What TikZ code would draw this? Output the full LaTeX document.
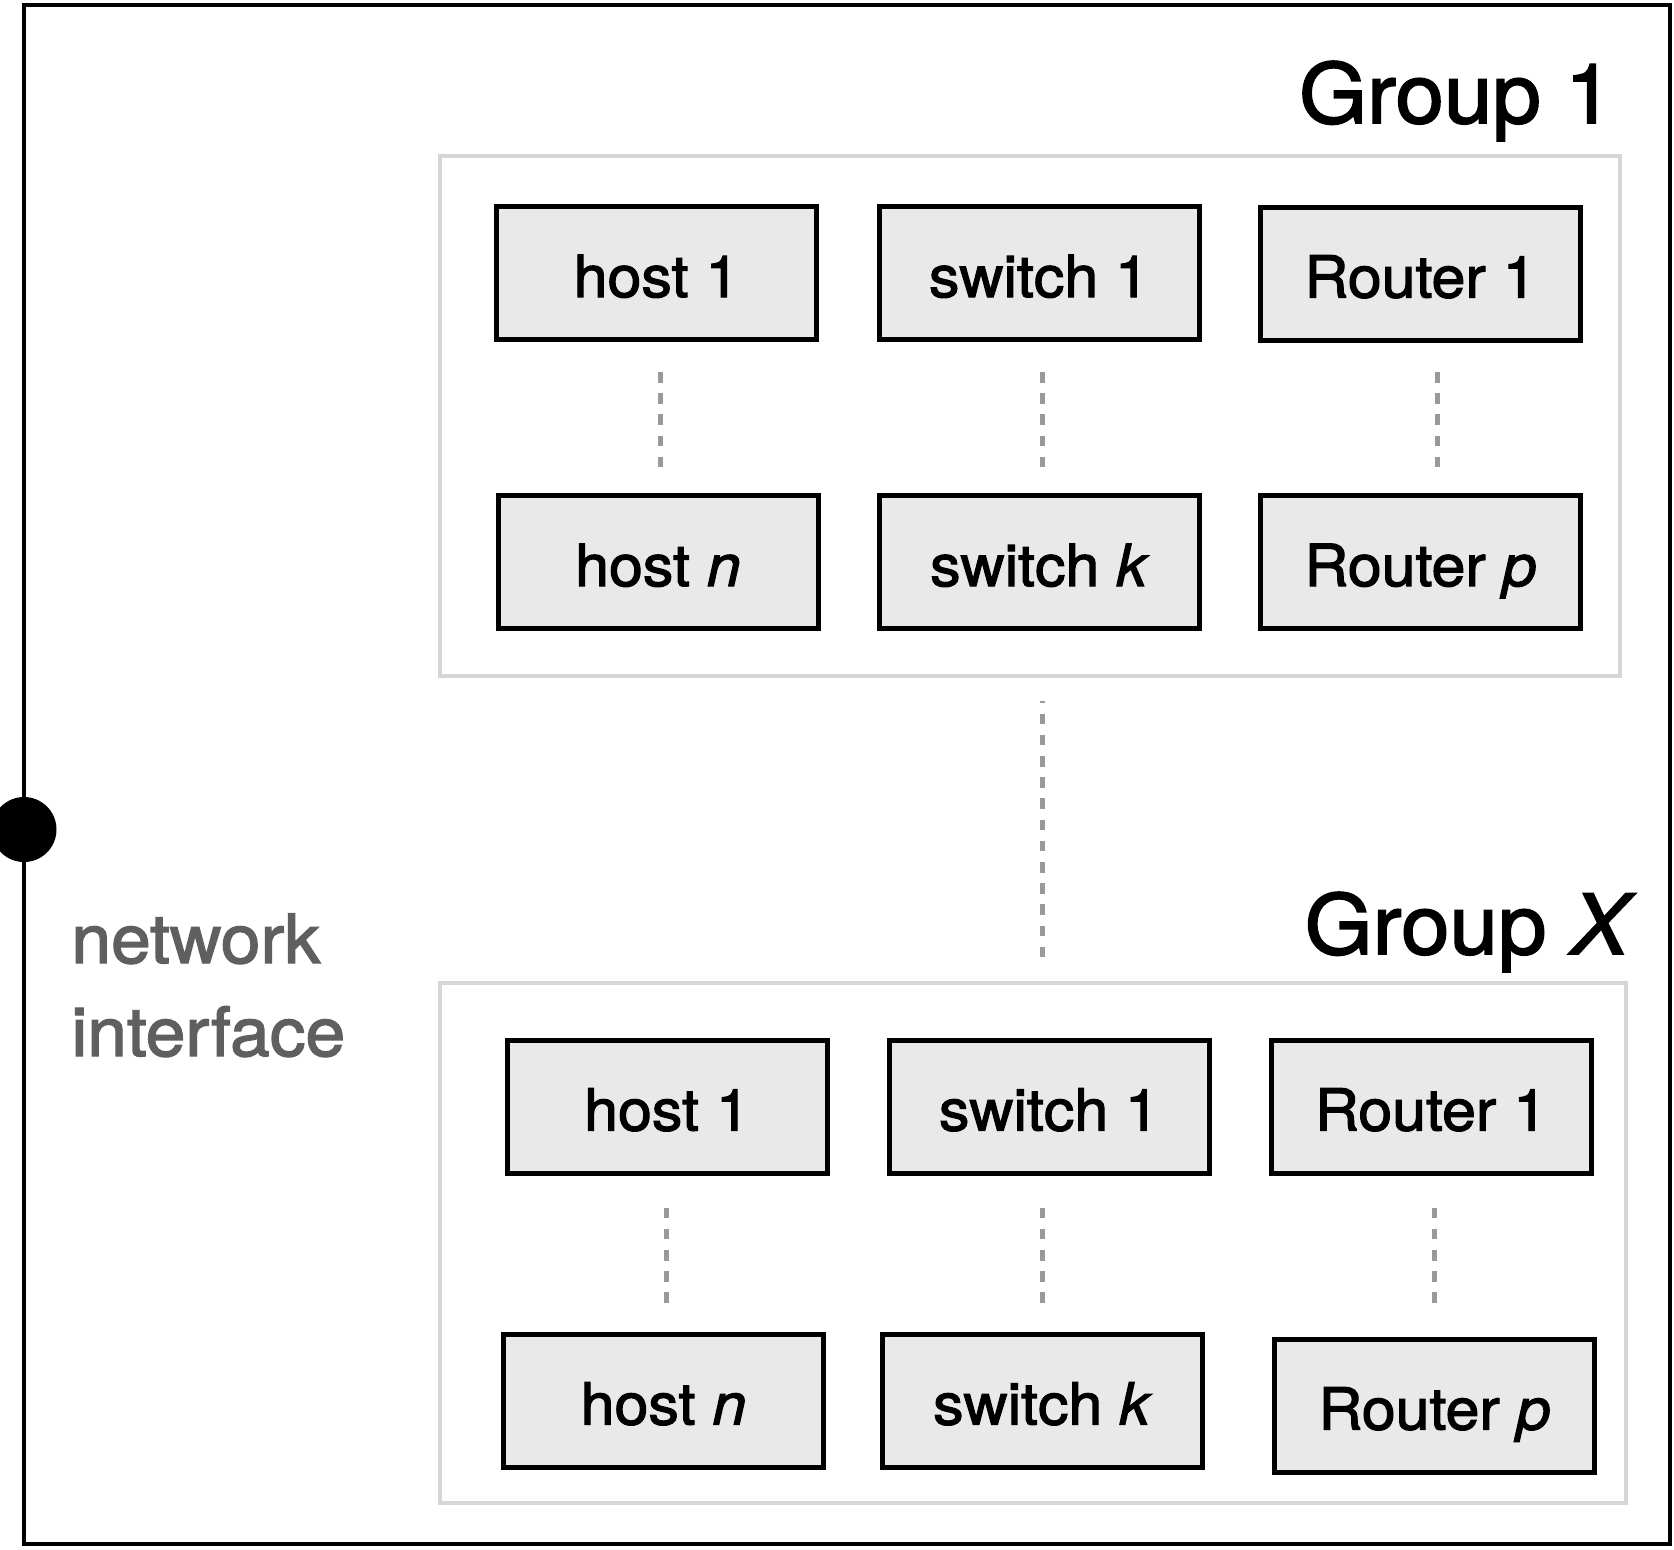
\documentclass[tikz,border=0pt]{standalone}
\usepackage{fontspec}
\setmainfont{TeX Gyre Heros}[FakeBold=2,FakeStretch=1.05]
\begin{document}
\begin{tikzpicture}[x=0.5pt,y=-0.5pt,
  frame/.style={draw=black,line width=2pt},
  groupbox/.style={draw=groupgray,line width=2pt},
  device/.style={draw=black,fill=devfill,line width=2.5pt,rectangle,
    minimum width=160pt,minimum height=66.5pt,inner sep=0pt,
    text height=24pt,text depth=0pt,
    font=\fontsize{29}{34}\selectfont},
  grouplabel/.style={font=\fontsize{41.5}{48}\selectfont,inner sep=0pt,anchor=base east},
  ellip/.style={draw=dotgray,line width=2.5pt,dash pattern=on 5.3pt off 5.3pt},
  niclabel/.style={text=labelgray,font=\fontsize{34}{46.5}\selectfont,
    align=left,inner sep=0pt,anchor=base west}]
\definecolor{groupgray}{HTML}{D6D6D6}
\definecolor{devfill}{HTML}{E9E9E9}
\definecolor{dotgray}{HTML}{999999}
\definecolor{labelgray}{HTML}{5F5F5F}
\useasboundingbox (0,0) rectangle (1674,1549);
\fill[white] (0,0) rectangle (1674,1549);

% outer system frame
\draw[frame] (24,5) rectangle (1670,1544);

% network interface port on the left edge
\begin{scope}
  \clip (0,0) rectangle (1674,1549);
  \fill[black] (24,829.5) circle (32.5);
\end{scope}
% the base anchor of a two-line node sits on its last line
\node[niclabel] (nic) at (71,1056) {network\\interface};

% ---------- Group 1 ----------
\draw[groupbox] (440,156) rectangle (1620,676);
\node[grouplabel] (g1) at (1614,123) {Group 1};

\node[device] (ah1) at (656.5,273)  {host 1};
\node[device] (as1) at (1039,273)   {switch 1};
\node[device] (ar1) at (1420.5,273.5) {Router 1};
\node[device] (ahn) at (658,562)    {host \textit{n}};
\node[device] (ask) at (1039.5,562) {switch \textit{k}};
\node[device] (arp) at (1420.5,562) {Router \textit{p}};

\coordinate (ah-top) at (660.5,372);  \coordinate (ah-bot) at (660.5,468);
\coordinate (as-top) at (1042,372);   \coordinate (as-bot) at (1042,468);
\coordinate (ar-top) at (1437.5,372); \coordinate (ar-bot) at (1437.5,468);
\draw[ellip] (ah-top) -- (ah-bot);
\draw[ellip] (as-top) -- (as-bot);
\draw[ellip] (ar-top) -- (ar-bot);

% ---------- between the groups ----------
\coordinate (mid-top) at (1042,701);
\coordinate (mid-bot) at (1042,959);
\draw[ellip,dash phase=4.3pt] (mid-top) -- (mid-bot);

% ---------- Group X ----------
\draw[groupbox] (440,983) rectangle (1626,1503);
\node[grouplabel] (gx) at (1636,954) {Group \textit{X}};

\node[device] (bh1) at (667,1106.5)   {host 1};
\node[device] (bs1) at (1049,1106.5)  {switch 1};
\node[device] (br1) at (1431,1106.5)  {Router 1};
\node[device] (bhn) at (663.5,1400.5) {host \textit{n}};
\node[device] (bsk) at (1042.5,1400.5) {switch \textit{k}};
\node[device] (brp) at (1434.5,1405.5) {Router \textit{p}};

\coordinate (bh-top) at (666,1207.5);    \coordinate (bh-bot) at (666,1304);
\coordinate (bs-top) at (1042.5,1207.5); \coordinate (bs-bot) at (1042.5,1304);
\coordinate (br-top) at (1434.5,1207.5); \coordinate (br-bot) at (1434.5,1304);
\draw[ellip] (bh-top) -- (bh-bot);
\draw[ellip] (bs-top) -- (bs-bot);
\draw[ellip] (br-top) -- (br-bot);
\end{tikzpicture}
\end{document}
